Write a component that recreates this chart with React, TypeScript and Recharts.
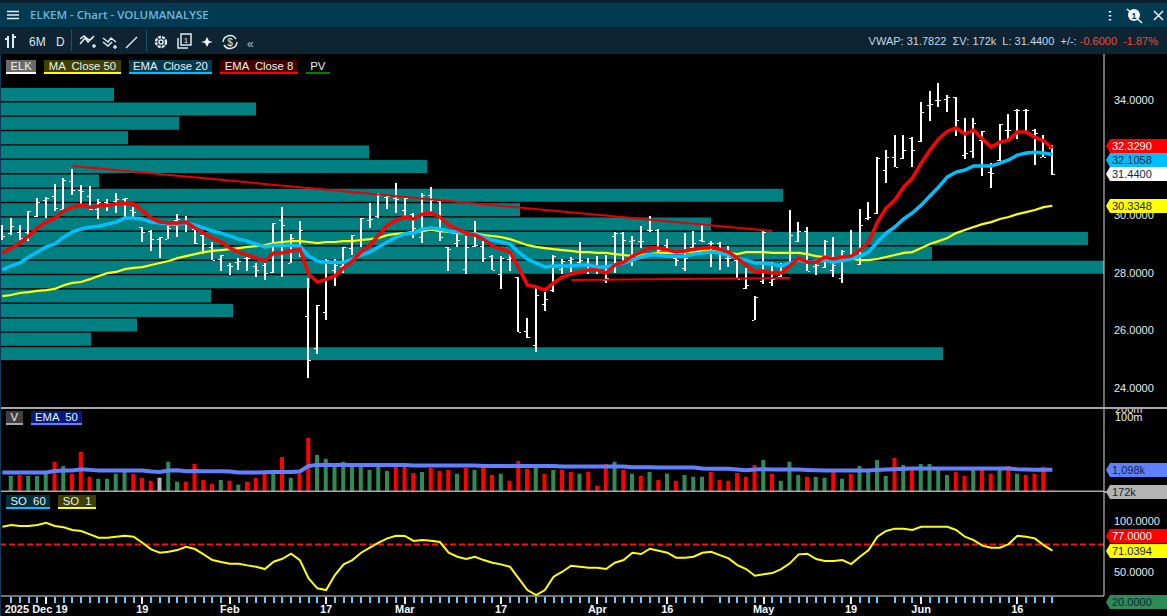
import React from "react"
import { Bar, BarChart, Cell, ComposedChart, Line, ReferenceLine, XAxis, YAxis } from "recharts"

// ELK daily, Dec 2024 to Jun 2025
const highs = [
  29.66, 29.9, 29.66, 30.15, 30.6, 30.63, 31.08, 31.29, 31.6, 31.05,
  31.01, 30.56, 30.56, 30.77, 30.6, 30.28, 29.59, 29.49, 29.24, 29.62,
  30.04, 29.97, 29.56, 29.31, 29.07, 28.62, 28.34, 28.51, 28.55, 28.34,
  28.34, 29.73, 30.28, 29.35, 29.8, 27.82, 26.88, 28.48, 28.48, 28.9,
  29.31, 29.9, 30.42, 30.77, 30.7, 31.12, 30.6, 30.08, 30.77, 30.98,
  30.49, 28.9, 29.38, 29.28, 29.8, 29.1, 28.62, 28.58, 28.65, 27.85,
  26.43, 27.47, 27.33, 28.62, 28.48, 28.55, 29.07, 28.51, 28.58, 28.62,
  29.42, 29.42, 29.28, 29.62, 29.97, 29.52, 29.17, 28.55, 29.38, 29.45,
  29.66, 29.1, 29.07, 28.93, 28.48, 28.17, 27.19, 29.45, 28.37, 28.34,
  30.18, 29.76, 29.59, 28.37, 29.14, 29.24, 28.79, 29.49, 30.22, 30.46,
  32.02, 32.26, 32.78, 32.78, 32.71, 33.93, 34.31, 34.59, 34.17, 34.1,
  33.37, 33.37, 32.92, 31.81, 33.17, 33.51, 33.69, 33.69, 32.99, 32.78,
  32.44,
]
const lows = [
  29.14, 29.31, 29.14, 29.1, 29.94, 29.9, 30.15, 30.18, 30.7, 30.35,
  30.18, 29.87, 30.15, 30.08, 29.94, 29.94, 29.07, 28.76, 28.51, 29.17,
  29.24, 29.42, 29.0, 28.65, 28.44, 28.06, 27.92, 28.1, 28.06, 27.85,
  27.75, 27.99, 27.85, 28.34, 28.55, 24.35, 25.18, 26.36, 27.54, 27.99,
  28.62, 28.9, 29.56, 29.9, 30.22, 30.08, 29.94, 29.21, 29.03, 30.08,
  29.1, 28.06, 28.9, 27.96, 28.9, 28.37, 28.1, 27.44, 28.06, 25.94,
  25.74, 25.25, 26.67, 27.33, 27.96, 28.03, 28.34, 27.96, 27.96, 27.65,
  27.99, 28.37, 28.24, 28.86, 29.42, 28.69, 28.69, 28.24, 28.06, 28.86,
  29.07, 28.2, 28.1, 28.2, 27.78, 27.44, 26.36, 27.61, 27.54, 27.85,
  28.37, 29.07, 28.06, 27.92, 28.17, 27.85, 27.65, 28.44, 28.27, 29.83,
  30.04, 31.12, 31.67, 31.95, 31.67, 32.54, 33.27, 33.76, 33.58, 32.75,
  31.95, 31.99, 31.36, 30.94, 31.88, 32.65, 32.65, 32.89, 31.74, 32.02,
  31.4,
]
const opens = [
  29.42, 29.38, 29.42, 29.42, 29.97, 30.53, 30.67, 30.22, 31.19, 30.88,
  30.67, 30.22, 30.46, 30.49, 30.56, 30.18, 29.59, 29.45, 29.17, 29.17,
  29.83, 29.8, 29.52, 29.31, 28.9, 28.48, 28.27, 28.37, 28.51, 28.24,
  28.27, 28.03, 29.83, 28.34, 28.79, 26.5, 25.39, 26.64, 28.1, 28.24,
  28.86, 29.14, 29.83, 29.97, 30.63, 30.6, 30.18, 30.04, 29.24, 30.7,
  30.49, 28.9, 29.03, 28.13, 28.93, 28.93, 28.58, 27.96, 28.48, 27.85,
  25.98, 25.49, 26.92, 27.4, 28.13, 28.44, 28.37, 28.3, 28.1, 27.75,
  29.28, 29.38, 29.1, 29.1, 29.49, 29.49, 28.96, 28.51, 28.17, 28.9,
  29.14, 29.03, 29.03, 28.51, 28.44, 27.47, 26.36, 27.71, 27.68, 27.89,
  28.37, 29.1, 29.45, 28.24, 28.2, 28.1, 27.82, 28.51, 28.3, 29.9,
  30.08, 31.57, 32.02, 31.99, 32.68, 32.58, 33.83, 34.0, 34.03, 34.1,
  32.09, 32.23, 32.61, 31.5, 31.92, 32.96, 33.65, 33.65, 32.96, 32.02,
  32.33,
]
const closes = [
  29.28, 29.62, 29.21, 30.15, 30.46, 30.6, 30.25, 31.22, 30.88, 30.84,
  30.22, 30.46, 30.42, 30.56, 30.6, 30.11, 29.42, 29.17, 29.24, 29.56,
  29.87, 29.76, 29.03, 29.0, 28.44, 28.62, 28.24, 28.41, 28.51, 28.1,
  27.99, 29.73, 29.66, 29.21, 29.49, 24.97, 26.88, 28.44, 28.27, 28.9,
  29.31, 29.9, 29.87, 30.7, 30.67, 30.56, 30.6, 29.56, 30.7, 30.53,
  29.24, 28.82, 29.14, 28.9, 28.96, 28.51, 28.1, 28.51, 28.51, 25.94,
  25.77, 27.23, 27.09, 28.58, 28.41, 28.48, 28.44, 28.1, 28.17, 27.82,
  29.38, 29.14, 29.14, 29.1, 29.49, 28.79, 28.72, 28.44, 28.51, 29.03,
  29.1, 29.03, 28.79, 28.51, 27.78, 27.58, 27.16, 29.42, 27.78, 27.85,
  29.31, 29.45, 28.06, 28.27, 29.1, 28.27, 28.76, 28.51, 29.66, 29.94,
  31.99, 32.02, 31.67, 32.26, 32.26, 33.58, 33.86, 34.0, 34.1, 33.31,
  32.16, 33.21, 32.92, 31.46, 33.17, 32.96, 33.65, 33.65, 32.85, 32.02,
  31.44,
]
const ema8 = [
  28.69, 28.86, 29.03, 29.28, 29.56, 29.76, 29.9, 30.15, 30.28, 30.35,
  30.28, 30.32, 30.35, 30.39, 30.42, 30.39, 30.15, 29.9, 29.76, 29.73,
  29.73, 29.76, 29.56, 29.38, 29.21, 29.07, 28.86, 28.72, 28.62, 28.51,
  28.41, 28.69, 28.69, 28.76, 28.82, 27.96, 27.68, 27.78, 27.89, 28.17,
  28.41, 28.72, 28.96, 29.31, 29.66, 29.83, 29.94, 29.87, 30.04, 30.08,
  29.94, 29.66, 29.52, 29.38, 29.31, 29.17, 28.93, 28.82, 28.72, 28.17,
  27.58, 27.51, 27.4, 27.65, 27.85, 27.96, 28.03, 28.1, 28.1, 27.99,
  28.27, 28.37, 28.58, 28.72, 28.86, 28.86, 28.79, 28.72, 28.76, 28.82,
  28.86, 28.9, 28.82, 28.72, 28.51, 28.27, 28.03, 28.06, 27.99, 27.99,
  28.24, 28.51, 28.37, 28.37, 28.55, 28.48, 28.55, 28.58, 28.79, 29.07,
  29.76, 30.25, 30.53, 30.98, 31.29, 31.81, 32.26, 32.65, 32.92, 33.03,
  32.82, 32.96, 32.65, 32.37, 32.54, 32.61, 32.89, 32.89, 32.71, 32.58,
  32.33,
]
const ema20 = [
  28.1, 28.24, 28.34, 28.55, 28.72, 28.9, 29.0, 29.24, 29.42, 29.52,
  29.59, 29.62, 29.69, 29.76, 29.9, 29.9, 29.87, 29.76, 29.73, 29.69,
  29.69, 29.73, 29.66, 29.56, 29.45, 29.38, 29.28, 29.17, 29.1, 29.0,
  28.9, 28.96, 28.96, 28.96, 28.93, 28.58, 28.41, 28.37, 28.37, 28.37,
  28.48, 28.62, 28.72, 28.9, 29.07, 29.24, 29.35, 29.38, 29.52, 29.56,
  29.52, 29.45, 29.42, 29.38, 29.35, 29.24, 29.14, 29.07, 29.0, 28.72,
  28.48, 28.34, 28.2, 28.24, 28.24, 28.24, 28.27, 28.27, 28.2, 28.2,
  28.27, 28.34, 28.44, 28.55, 28.62, 28.62, 28.58, 28.58, 28.58, 28.65,
  28.69, 28.72, 28.69, 28.62, 28.51, 28.44, 28.34, 28.34, 28.3, 28.24,
  28.34, 28.44, 28.37, 28.41, 28.44, 28.37, 28.44, 28.48, 28.58, 28.72,
  29.07, 29.38, 29.59, 29.87, 30.08, 30.35, 30.67, 30.98, 31.33, 31.5,
  31.57, 31.71, 31.71, 31.71, 31.81, 31.92, 32.09, 32.16, 32.19, 32.16,
  32.11,
]
const ma50 = [
  27.19, 27.23, 27.3, 27.33, 27.37, 27.4, 27.44, 27.57, 27.65, 27.68,
  27.78, 27.89, 27.99, 28.03, 28.13, 28.17, 28.2, 28.27, 28.34, 28.41,
  28.51, 28.58, 28.65, 28.72, 28.76, 28.79, 28.82, 28.86, 28.9, 28.93,
  28.96, 29.03, 29.07, 29.1, 29.1, 29.07, 29.03, 29.07, 29.07, 29.1,
  29.1, 29.14, 29.17, 29.21, 29.31, 29.35, 29.38, 29.42, 29.45, 29.49,
  29.45, 29.42, 29.38, 29.38, 29.38, 29.31, 29.28, 29.24, 29.17, 29.07,
  28.96, 28.9, 28.86, 28.82, 28.79, 28.76, 28.72, 28.72, 28.69, 28.69,
  28.65, 28.62, 28.58, 28.62, 28.65, 28.69, 28.69, 28.69, 28.72, 28.72,
  28.76, 28.76, 28.72, 28.69, 28.65, 28.72, 28.72, 28.72, 28.69, 28.69,
  28.69, 28.69, 28.65, 28.58, 28.55, 28.51, 28.48, 28.48, 28.44, 28.44,
  28.48, 28.55, 28.62, 28.69, 28.72, 28.86, 29.0, 29.1, 29.21, 29.38,
  29.49, 29.59, 29.69, 29.76, 29.87, 29.94, 30.04, 30.11, 30.18, 30.28,
  30.33,
]
// thousands of shares
const volumes = [
  null, 653, 711, 653, 653, 775, 2160, 1530, 775, 5060,
  600, 506, 506, 775, 918, 775, 551, 427, 551, 2160,
  392, 392, 1820, 464, 330, 464, 427, 303, 392, 551,
  775, 1090, 3300, 551, 775, 16700, 3920, 2790, 1670, 2160,
  1670, 1670, 1090, 1410, 1000, 1410, 1410, 843, 918, 1290,
  1000, 1090, 775, 1290, 1090, 1290, 711, 775, 427, 2350,
  1190, 1290, 775, 1090, 1090, 918, 775, 918, 279, 1820,
  2160, 1090, 775, 653, 918, 464, 775, 427, 711, 600,
  600, 918, 464, 427, 843, 600, 1670, 2560, 775, 427,
  2160, 711, 600, 600, 551, 918, 506, 775, 1530, 918,
  2560, 653, 3030, 1670, 1090, 1820, 1820, 1090, 711, 918,
  653, 1090, 1090, 775, 1090, 1530, 775, 711, 775, 1410,
  172,
]
const volumeEma50 = [
  867, 867, 867, 867, 867, 867, 1000, 1030, 1030, 1160,
  1090, 1030, 1030, 1030, 1030, 1030, 1030, 945, 918, 1030,
  1060, 973, 1000, 973, 973, 973, 945, 867, 867, 867,
  892, 918, 918, 918, 945, 1530, 1670, 1670, 1670, 1670,
  1670, 1670, 1670, 1670, 1670, 1670, 1670, 1570, 1570, 1570,
  1570, 1570, 1570, 1570, 1570, 1530, 1530, 1530, 1530, 1530,
  1530, 1530, 1530, 1530, 1450, 1450, 1450, 1450, 1450, 1450,
  1450, 1450, 1360, 1360, 1360, 1330, 1330, 1330, 1330, 1330,
  1230, 1200, 1200, 1200, 1130, 1060, 1130, 1160, 1130, 1130,
  1130, 1130, 1090, 1060, 1030, 1030, 1030, 1030, 1030, 1030,
  1090, 1130, 1160, 1200, 1230, 1230, 1230, 1230, 1230, 1230,
  1230, 1230, 1230, 1230, 1230, 1230, 1160, 1130, 1100, 1100,
  1098,
]
const downDays = [
  2, 6, 8, 9, 10, 15, 16, 17, 21, 22, 23, 24, 26, 28, 29, 30, 32, 34, 35, 45, 46, 47, 49, 50, 51, 53, 55, 56, 58,
  59, 60, 62, 64, 65, 67, 68, 69, 71, 73, 75, 77, 81, 82, 83, 84, 85, 86, 88, 92, 95, 97, 102, 104, 109, 110, 112,
  113, 115, 117, 118, 119, 120,
]
const flatDays = [18]
const stochastic = [
  94.4, 96.0, 95.1, 95.1, 96.0, 98.3, 95.1, 93.8, 91.2, 90.2,
  86.9, 83.6, 83.6, 84.6, 85.6, 84.6, 78.7, 72.2, 68.9, 69.9,
  71.5, 74.8, 72.5, 67.3, 61.7, 59.8, 58.1, 58.1, 56.5, 55.2,
  52.9, 60.1, 63.0, 67.9, 61.7, 43.8, 34.0, 32.3, 47.0, 57.5,
  61.7, 68.9, 73.8, 78.7, 83.0, 85.6, 85.3, 80.4, 81.3, 80.7,
  79.4, 68.9, 65.0, 62.7, 65.0, 61.7, 59.1, 57.5, 55.2, 43.8,
  32.3, 27.4, 32.3, 45.4, 50.3, 56.2, 55.2, 54.2, 54.2, 52.9,
  59.1, 61.7, 68.9, 67.6, 72.8, 70.9, 68.9, 64.0, 64.0, 65.0,
  68.9, 69.9, 66.6, 63.4, 56.8, 52.9, 46.4, 47.7, 49.0, 52.9,
  58.5, 67.3, 67.9, 62.7, 60.8, 60.8, 61.7, 57.8, 65.0, 71.5,
  84.6, 90.2, 92.5, 92.5, 91.2, 94.4, 94.4, 94.4, 94.4, 91.2,
  84.6, 81.3, 75.8, 73.8, 73.8, 77.4, 85.6, 84.6, 83.0, 76.4,
  71.04,
]

// volume at price, top bucket first
const profileBuckets = [
  34.25, 33.75, 33.25, 32.75, 32.25, 31.75, 31.25, 30.75, 30.25, 29.75,
  29.25, 28.75, 28.25, 27.75, 27.25, 26.75, 26.25, 25.75, 25.25,
]
const profileVolumes = [114, 256, 179, 128, 369, 427, 99, 783, 520, 711, 1088, 932, 1104, 310, 211, 233, 137, 91, 943]

const priceTicks = [24, 26, 28, 30, 34]
const volumeTicks = [100000, 200000]
const stochTicks = [50, 100]
const dateLabels: Record<number, string> = {
  5: "2025 Dec 19",
  16: "19",
  26: "Feb",
  37: "17",
  46: "Mar",
  57: "17",
  68: "Apr",
  76: "16",
  87: "May",
  97: "19",
  105: "Jun",
  116: "16",
}
const noTickDays = [0, 81, 101]

const FONT = '"Liberation Sans", Arial, sans-serif'
const BAR_WIDTH = 1169
const BAR_RIGHT = 63
const xPadding = { left: 0, right: 47.25 }

const rows = highs.map((h, i) => ({
  i,
  range: [lows[i], h],
  open: opens[i],
  close: closes[i],
  ema8: ema8[i],
  ema20: ema20[i],
  ma50: ma50[i],
  volume: volumes[i],
  volumeEma: volumeEma50[i],
  so: stochastic[i],
}))
const profileRows = profileBuckets.map((price, i) => ({ price, volume: profileVolumes[i] }))

function OhlcBar(props: any) {
  const { x, y, width, height, payload } = props
  const [low, high] = payload.range
  const perUnit = height / (high - low)
  const cx = Math.round(x + width / 2)
  const top = Math.round(y)
  const openY = Math.round(y + (high - payload.open) * perUnit)
  const closeY = Math.round(y + (high - payload.close) * perUnit)
  return (
    <g fill="#fff" shapeRendering="crispEdges">
      <rect x={cx - 1} y={top} width={2} height={Math.round(height)} />
      <rect x={cx - 3} y={openY} width={2} height={1} />
      <rect x={cx + 1} y={closeY} width={2} height={1} />
    </g>
  )
}

function DateTick(props: any) {
  const { x, y, payload } = props
  const i = payload.value
  if (noTickDays.includes(i)) return null
  const label = dateLabels[i]
  return (
    <g>
      <rect x={x - 1} y={y + 1} width={2} height={label ? 7 : 6} fill={label ? "#d8f0ff" : "#6ec6f8"} shapeRendering="crispEdges" />
      {label && (
        <text
          x={i === 5 ? x - 10 : x}
          y={y + 17}
          textAnchor="middle"
          fill="#f4f8fb"
          fontSize={11}
          fontWeight={700}
          fontFamily={FONT}
        >
          {label}
        </text>
      )}
    </g>
  )
}

function Tag({ y, bg, color = "#10243a", text }: { y: number; bg: string; color?: string; text: string }) {
  return (
    <div
      style={{
        position: "absolute",
        left: 1106,
        top: y - 7,
        width: 61,
        height: 14,
        background: bg,
        color,
        font: `11px ${FONT}`,
        lineHeight: "14px",
        paddingLeft: 6,
        boxSizing: "border-box",
        clipPath: "polygon(4px 0, 100% 0, 100% 100%, 4px 100%, 0 50%)",
      }}
    >
      {text}
    </div>
  )
}

function Chip({ label, bg, line }: { label: string; bg: string; line: string }) {
  return (
    <div
      style={{
        background: bg,
        borderBottom: `2px solid ${line}`,
        color: "#f0f0f0",
        font: `11.3px ${FONT}`,
        lineHeight: "12px",
        height: 12,
        padding: "0 4.5px",
        whiteSpace: "pre",
      }}
    >
      {label}
    </div>
  )
}

function ChipRow({ top, children }: { top: number; children: React.ReactNode }) {
  return <div style={{ position: "absolute", left: 6, top, display: "flex", gap: 8 }}>{children}</div>
}

function Toolbar() {
  const stroke = { fill: "none", stroke: "#dfe9ef", strokeWidth: 1.5 }
  return (
    <svg width={260} height={27} style={{ position: "absolute", left: 0, top: 27 }}>
      <path d="M8 21V9M8 12H5M13 21V7M13 10H16" {...stroke} strokeWidth={2} />
      <text x={29} y={19} fill="#dbe7ee" fontSize={12} fontFamily={FONT}>6M</text>
      <text x={56} y={19} fill="#dbe7ee" fontSize={12} fontFamily={FONT}>D</text>
      <rect x={71} y={3} width={1} height={21} fill="#1c5470" />
      <path d="M80 17L85 11L88 15L94 9M80 12L84 9L89 13L93 11M92 19H96M94 17V21" {...stroke} />
      <path d="M103 11L108 15L111 11L116 15M103 15L108 19L112 15M113 20H117M115 18V22" {...stroke} />
      <path d="M126 21L137 10" {...stroke} />
      <rect x={146} y={3} width={1} height={21} fill="#1c5470" />
      <circle cx={161} cy={15} r={5} {...stroke} strokeWidth={2.4} strokeDasharray="3 1" />
      <circle cx={161} cy={15} r={2} {...stroke} />
      <rect x={181} y={7} width={10} height={11} {...stroke} />
      <path d="M178 11V21H188" {...stroke} />
      <text x={186} y={16} fill="#dfe9ef" fontSize={8} fontFamily={FONT} textAnchor="middle">1</text>
      <path d="M207 10L209 14L213 15L209 16L207 20L205 16L201 15L205 14Z" fill="#f4f8fb" />
      <path d="M223 15A7 7 0 0 1 236 12M237 15A7 7 0 0 1 224 18" {...stroke} />
      <text x={230} y={19} fill="#dfe9ef" fontSize={10} fontFamily={FONT} textAnchor="middle">$</text>
      <text x={247} y={21} fill="#9fc4da" fontSize={12} fontFamily={FONT}>«</text>
    </svg>
  )
}

export default function App() {
  return (
    <div style={{ position: "absolute", left: 0, top: 0, width: 1167, height: 616, background: "#000", overflow: "hidden", fontFamily: FONT }}>
      <style>{"body{margin:0;background:#000}"}</style>

      {/* window chrome */}
      <div style={{ position: "absolute", left: 0, top: 0, width: 1167, height: 3, background: "#0a202e" }} />
      <div style={{ position: "absolute", left: 0, top: 3, width: 1167, height: 24, background: "#023a52" }} />
      <div style={{ position: "absolute", left: 0, top: 27, width: 1167, height: 27, background: "#0e2432" }} />
      <svg width={20} height={24} style={{ position: "absolute", left: 4, top: 3 }}>
        <path d="M3 8.5H15M3 12H15M3 15.5H15" stroke="#e6eef3" strokeWidth={1.6} />
      </svg>
      <div style={{ position: "absolute", left: 30, top: 7, color: "#70b6dc", font: `600 11.5px "Open Sans", ${FONT}`, lineHeight: "16px", whiteSpace: "pre" }}>
        ELKEM - Chart - VOLUMANALYSE
      </div>
      <svg width={70} height={24} style={{ position: "absolute", left: 1097, top: 3 }}>
        <path d="M13 8V9.5M13 12V13.5M13 16V17.5" stroke="#fff" strokeWidth={2.4} />
        <circle cx={37} cy={12} r={6} fill="#f4f8fb" />
        <path d="M30 6L45 20" stroke="#f4f8fb" strokeWidth={1.6} />
        <text x={37} y={16} fontSize={9} textAnchor="middle" fontFamily={FONT} fill="#023a52" fontWeight={700}>1</text>
        <path d="M57 8L66 17M66 8L57 17" stroke="#e6eef3" strokeWidth={1.5} />
      </svg>
      <Toolbar />
      <div style={{ position: "absolute", right: 9, top: 34, color: "#c4d9e8", font: `11px ${FONT}`, lineHeight: "15px", whiteSpace: "pre" }}>
        {"VWAP: 31.7822  ΣV: 172k  L: 31.4400  +/-: "}
        <span style={{ color: "#e4503f" }}>{"-0.6000  -1.87%"}</span>
      </div>

      {/* volume at price sits behind the price pane */}
      <div style={{ position: "absolute", left: 0, top: 86.7 }}>
        <BarChart
          width={1104}
          height={273.6}
          layout="vertical"
          data={profileRows}
          margin={{ top: 0, right: 0, bottom: 0, left: 0 }}
        >
          <XAxis type="number" hide domain={[0, 1104]} />
          <YAxis type="category" dataKey="price" hide />
          <Bar dataKey="volume" fill="#008080" barSize={13} isAnimationActive={false} />
        </BarChart>
      </div>

      {/* price */}
      <div style={{ position: "absolute", left: -2, top: 54 }}>
        <ComposedChart width={BAR_WIDTH} height={353} data={rows} margin={{ top: 0, right: 0, bottom: 0, left: 0 }}>
          <XAxis dataKey="i" hide padding={xPadding} />
          <YAxis
            orientation="right"
            width={BAR_RIGHT}
            domain={[23.34, 35.6]}
            allowDataOverflow
            ticks={priceTicks}
            tickFormatter={(v) => Number(v).toFixed(4)}
            tick={{ fill: "#e4eef6", fontSize: 11, fontFamily: FONT }}
            tickLine={false}
            tickMargin={4}
            axisLine={{ stroke: "#d8d8d8" }}
          />
          <Bar dataKey="range" barSize={2} shape={OhlcBar} isAnimationActive={false} />
          <Line dataKey="ma50" stroke="#ffff00" strokeWidth={2.2} dot={false} isAnimationActive={false} />
          <Line dataKey="ema20" stroke="#00bfff" strokeWidth={3.5} dot={false} isAnimationActive={false} />
          <Line dataKey="ema8" stroke="#ff0000" strokeWidth={3.5} dot={false} isAnimationActive={false} />
          <ReferenceLine segment={[{ x: 8, y: 31.71 }, { x: 88, y: 29.45 }]} stroke="#e80000" strokeWidth={2} />
          <ReferenceLine segment={[{ x: 65, y: 27.75 }, { x: 90, y: 27.82 }]} stroke="#e80000" strokeWidth={2} />
        </ComposedChart>
      </div>

      {/* volume */}
      <div style={{ position: "absolute", left: -2, top: 408 }}>
        <ComposedChart width={BAR_WIDTH} height={83.5} data={rows} margin={{ top: 0, right: 0, bottom: 0, left: 0 }}>
          <XAxis dataKey="i" hide padding={xPadding} />
          <YAxis
            orientation="right"
            width={BAR_RIGHT}
            scale="log"
            domain={[172, 215000]}
            allowDataOverflow
            interval={0}
            ticks={volumeTicks}
            tickFormatter={(v) => `${Number(v) / 1000}m`}
            tick={{ fill: "#e4eef6", fontSize: 11, fontFamily: FONT }}
            tickLine={false}
            tickMargin={5}
            axisLine={{ stroke: "#d8d8d8" }}
          />
          <Bar dataKey="volume" barSize={4} minPointSize={1} isAnimationActive={false}>
            {rows.map((row) => (
              <Cell
                key={row.i}
                fill={flatDays.includes(row.i) ? "#b4b4b4" : downDays.includes(row.i) ? "#ff0000" : "#2e8b57"}
              />
            ))}
          </Bar>
          <Line dataKey="volumeEma" stroke="#6080ff" strokeWidth={4} dot={false} isAnimationActive={false} />
          <ReferenceLine y={172} stroke="#a8a8a8" strokeWidth={2} ifOverflow="visible" />
        </ComposedChart>
      </div>

      {/* stochastic */}
      <div style={{ position: "absolute", left: -2, top: 492 }}>
        <ComposedChart width={BAR_WIDTH} height={124} data={rows} margin={{ top: 0, right: 0, bottom: 0, left: 0 }}>
          <XAxis
            dataKey="i"
            scale="band"
            height={20}
            padding={xPadding}
            interval={0}
            tick={DateTick}
            tickLine={false}
            tickSize={0}
            tickMargin={0}
            axisLine={{ stroke: "#e8e8e8" }}
          />
          <YAxis
            orientation="right"
            width={BAR_RIGHT}
            domain={[26.5, 128.4]}
            allowDataOverflow
            ticks={stochTicks}
            tickFormatter={(v) => Number(v).toFixed(4)}
            tick={{ fill: "#e4eef6", fontSize: 11, fontFamily: FONT }}
            tickLine={false}
            tickMargin={4}
            axisLine={{ stroke: "#d8d8d8" }}
          />
          <ReferenceLine y={77} stroke="#ff1010" strokeWidth={2} strokeDasharray="6 3" />
          <Line dataKey="so" stroke="#ffff00" strokeWidth={2} dot={false} isAnimationActive={false} />
        </ComposedChart>
      </div>

      <div style={{ position: "absolute", left: 0, top: 407, width: 1167, height: 2, background: "#a8a8a8" }} />
      <div style={{ position: "absolute", left: 1104, top: 491, width: 10, height: 2, background: "#a8a8a8" }} />
      <div style={{ position: "absolute", left: 0, top: 54, width: 1, height: 562, background: "#0c3a58" }} />

      <ChipRow top={60}>
        <Chip label="ELK" bg="#6a6a6a" line="#ffffff" />
        <Chip label="MA  Close 50" bg="#3f3f00" line="#ffff00" />
        <Chip label="EMA  Close 20" bg="#003a50" line="#00bfff" />
        <Chip label="EMA  Close 8" bg="#400000" line="#ff0000" />
        <Chip label="PV" bg="#000000" line="#008000" />
      </ChipRow>
      <ChipRow top={411}>
        <Chip label="V" bg="#404040" line="#a8a8a8" />
        <Chip label="EMA  50" bg="#001a80" line="#6080ff" />
      </ChipRow>
      <ChipRow top={495}>
        <Chip label="SO  60" bg="#003040" line="#00bfff" />
        <Chip label="SO  1" bg="#3f3f00" line="#ffff00" />
      </ChipRow>

      <Tag y={146} bg="#ff0000" color="#ffffff" text="32.3290" />
      <Tag y={160} bg="#00bfff" text="32.1058" />
      <Tag y={174} bg="#ffffff" text="31.4400" />
      <Tag y={206} bg="#ffff00" text="30.3348" />
      <Tag y={470} bg="#6080ff" text="1,098k" />
      <Tag y={492} bg="#b4b4b4" text="172k" />
      <Tag y={536} bg="#ff0000" color="#ffffff" text="77.0000" />
      <Tag y={551} bg="#ffff00" text="71.0394" />
      <Tag y={602} bg="#2e8b57" text="20.0000" />
    </div>
  )
}
